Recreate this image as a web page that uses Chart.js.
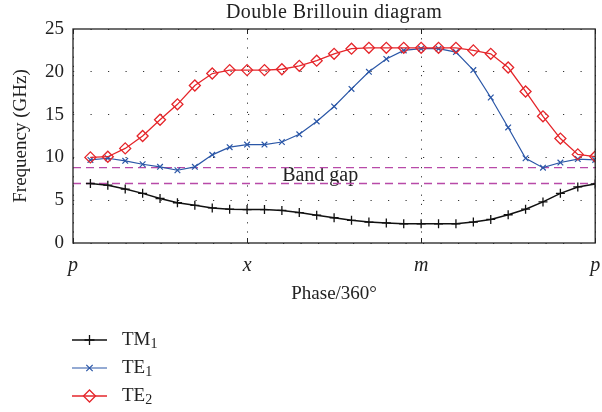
<!DOCTYPE html>
<html>
<head>
<meta charset="utf-8">
<script src="https://cdn.jsdelivr.net/npm/chart.js@4"></script>
<style>
html,body{margin:0;padding:0;background:#fff;}
#wrap{width:602px;height:412px;}
</style>
</head>
<body>
<div id="wrap"><canvas id="c" width="602" height="412"></canvas></div>
<script>
// ---- data ----
const phase = [1,2,3,4,5,6,7,8,9,10,11,12,13,14,15,16,17,18,19,20,21,22,23,24,25,26,27,28,29,30];
const tm1 = [6.95,6.75,6.3,5.8,5.2,4.7,4.4,4.1,3.95,3.9,3.9,3.8,3.55,3.25,2.95,2.65,2.45,2.35,2.25,2.25,2.25,2.25,2.45,2.75,3.3,3.95,4.8,5.8,6.55,6.9];
const te1 = [9.7,9.9,9.6,9.2,8.9,8.5,8.9,10.3,11.2,11.5,11.5,11.8,12.7,14.2,15.95,18.0,20.0,21.5,22.5,22.7,22.7,22.3,20.2,17.0,13.5,9.9,8.8,9.4,9.8,9.7];
const te2 = [10.0,10.08,11.05,12.5,14.4,16.2,18.4,19.8,20.2,20.2,20.2,20.3,20.7,21.3,22.1,22.7,22.8,22.8,22.8,22.8,22.8,22.8,22.5,22.1,20.5,17.7,14.8,12.2,10.35,10.1];
const bandGap = [6.95, 8.8];
const bandGapSpan = [0, 30];
const bandGapLabelPos = [14.2, 7.85];
const xTickValues = [0, 10, 20, 30];
const xTickLabels = ['p', 'x', 'm', 'p'];
const yTickValues = [0, 5, 10, 15, 20, 25];
const seriesNames = ['TM\u2081', 'TE\u2081', 'TE\u2082'];
const seriesBase = ['TM', 'TE', 'TE'];
const seriesSub = ['1', '1', '2'];

const SERIF = '"Liberation Serif", "DejaVu Serif", serif';
const RED = '#e5262b', BLUE = '#2b57a7', BLACK = '#111111', MAGENTA = '#b84aa8';

const pts = arr => arr.map((v, i) => ({x: phase[i], y: v}));

const datasets = [
  {label: seriesNames[2], data: pts(te2), borderColor: RED, backgroundColor: 'rgba(0,0,0,0)',
   borderWidth: 1.3, pointStyle: 'rectRot', pointRadius: 5.5, pointBorderWidth: 1.3, pointBorderColor: RED, pointBackgroundColor: 'rgba(0,0,0,0)', legendOrder: 2},
  {label: seriesNames[1], data: pts(te1), borderColor: BLUE, backgroundColor: 'rgba(0,0,0,0)',
   borderWidth: 1.2, pointStyle: 'crossRot', pointRadius: 4, pointBorderWidth: 1.2, pointBorderColor: BLUE, legendOrder: 1},
  {label: seriesNames[0], data: pts(tm1), borderColor: BLACK, backgroundColor: 'rgba(0,0,0,0)',
   borderWidth: 1.5, pointStyle: 'cross', pointRadius: 4.5, pointBorderWidth: 1.3, pointBorderColor: BLACK, legendOrder: 0},
];
bandGap.forEach(v => {
  datasets.push({label: 'gap', data: bandGapSpan.map(x => ({x: x, y: v})), borderColor: MAGENTA,
    borderWidth: 1.3, borderDash: [8, 5], pointRadius: 0, isGap: true});
});

const decor = {
  id: 'decor',
  beforeDatasetsDraw(chart) {
    const {ctx, scales: {x, y}} = chart;
    ctx.save();
    ctx.font = '20px ' + SERIF;
    ctx.fillStyle = '#222';
    ctx.textAlign = 'center';
    ctx.textBaseline = 'middle';
    ctx.fillText('Band gap', x.getPixelForValue(bandGapLabelPos[0]), y.getPixelForValue(bandGapLabelPos[1]));
    ctx.restore();
  },
  afterDraw(chart) {
    const {ctx, chartArea: a, scales: {x, y}} = chart;
    ctx.save();
    // frame
    ctx.strokeStyle = '#222';
    ctx.lineWidth = 1.3;
    ctx.strokeRect(a.left, a.top, a.right - a.left, a.bottom - a.top);
    // inward tick marks
    ctx.lineWidth = 1;
    xTickValues.forEach(v => {
      const px = Math.round(x.getPixelForValue(v)) + 0.5;
      ctx.beginPath();
      ctx.moveTo(px, a.bottom); ctx.lineTo(px, a.bottom - 5);
      ctx.moveTo(px, a.top); ctx.lineTo(px, a.top + 5);
      ctx.stroke();
    });
    // title
    ctx.font = '20px ' + SERIF;
    try { ctx.letterSpacing = '0.4px'; } catch (e) {}
    ctx.fillStyle = '#222';
    ctx.textAlign = 'center';
    ctx.textBaseline = 'middle';
    ctx.fillText('Double Brillouin diagram', (a.left + a.right) / 2, 13);
    try { ctx.letterSpacing = '0px'; } catch (e) {}
    // legend
    const legendDs = chart.data.datasets.filter(d => !d.isGap).sort((p, q) => p.legendOrder - q.legendOrder);
    const rowY = [340, 368, 396];
    legendDs.forEach((d, i) => {
      const yy = rowY[i];
      ctx.strokeStyle = d.borderColor;
      ctx.fillStyle = 'rgba(0,0,0,0)';
      ctx.lineWidth = d.borderWidth;
      ctx.beginPath(); ctx.moveTo(72, yy); ctx.lineTo(107, yy); ctx.stroke();
      ctx.lineWidth = d.pointBorderWidth;
      Chart.helpers.drawPoint(ctx, {pointStyle: d.pointStyle, radius: d.pointRadius + 0.5, borderWidth: d.pointBorderWidth}, 89.5, yy);
      const idx = d.legendOrder;
      ctx.fillStyle = '#222';
      ctx.textAlign = 'left';
      ctx.textBaseline = 'middle';
      ctx.font = '19px ' + SERIF;
      ctx.fillText(seriesBase[idx], 122, yy);
      const w = ctx.measureText(seriesBase[idx]).width;
      ctx.font = '14px ' + SERIF;
      ctx.fillText(seriesSub[idx], 122 + w, yy + 4);
    });
    ctx.restore();
  }
};

new Chart(document.getElementById('c'), {
  type: 'line',
  data: {datasets},
  options: {
    responsive: false,
    animation: false,
    events: [],
    layout: {padding: {top: 29, right: 4, left: 0, bottom: 105}},
    plugins: {legend: {display: false}, title: {display: false}, tooltip: {enabled: false}},
    elements: {line: {tension: 0}},
    scales: {
      x: {
        type: 'linear', min: 0, max: 30,
        afterFit: s => { s.height = 64; s.paddingLeft = 0; s.paddingRight = 0; },
        afterBuildTicks: s => { s.ticks = xTickValues.map(v => ({value: v})); },
        ticks: {
          autoSkip: false, maxRotation: 0, padding: 11,
          color: '#222',
          font: {family: SERIF, size: 20, style: 'italic'},
          callback: (v) => xTickLabels[xTickValues.indexOf(v)]
        },
        grid: {color: '#333', lineWidth: 1, drawTicks: false},
        border: {display: false, dash: [1.2, 8]},
        title: {display: true, text: 'Phase/360\u00b0', color: '#222', font: {family: SERIF, size: 19}, padding: {top: 0, bottom: 2}}
      },
      y: {
        min: 0, max: 25,
        afterFit: s => { s.width = 73; s.paddingTop = 0; s.paddingBottom = 0; },
        afterBuildTicks: s => { s.ticks = yTickValues.map(v => ({value: v})); },
        ticks: {padding: 9, color: '#222', font: {family: SERIF, size: 19}},
        grid: {color: '#333', lineWidth: 1, drawTicks: false},
        border: {display: false, dash: [1.2, 16.3]},
        title: {display: true, text: 'Frequency (GHz)', color: '#222', font: {family: SERIF, size: 19}, padding: {top: 10, bottom: 0}}
      }
    }
  },
  plugins: [decor]
});
</script>
</body>
</html>
